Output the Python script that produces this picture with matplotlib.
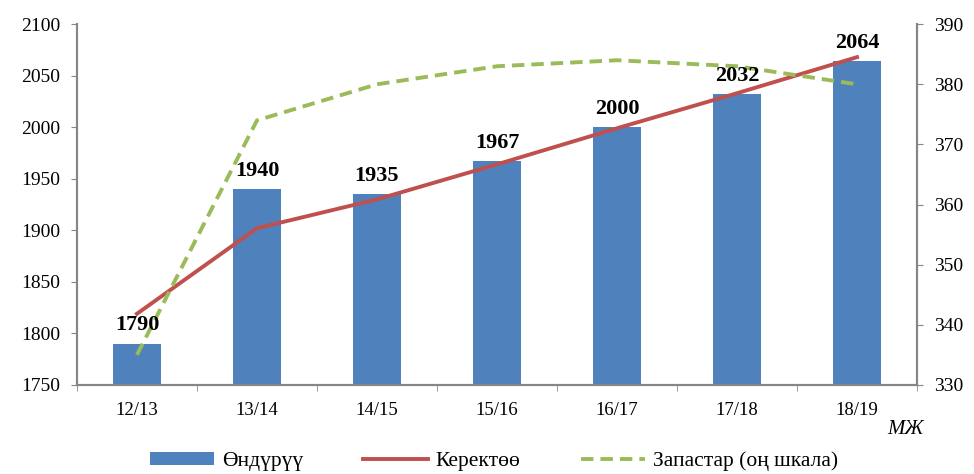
import matplotlib.pyplot as plt
import numpy as np

plt.rcParams['font.family'] = ['Liberation Serif', 'DejaVu Serif']

# данные
years = ["12/13", "13/14", "14/15", "15/16", "16/17", "17/18", "18/19"]
production = [1790, 1940, 1935, 1967, 2000, 2032, 2064]
consumption = [1819, 1902, 1930, 1964, 1999, 2033, 2068]
stocks = [335, 374, 380, 383, 384, 383, 380]

BAR_COLOR = "#4F81BD"
RED = "#C0504D"
GREEN = "#9BBB59"
AXIS_GRAY = "#868686"

fig = plt.figure(figsize=(9.74, 4.74), dpi=100)
ax = fig.add_axes([0.079, 0.188, 0.8625, 0.761])
ax2 = ax.twinx()

x = np.arange(len(years))
bars = ax.bar(x, production, width=0.4, color=BAR_COLOR, zorder=2)
l1, = ax.plot(x, consumption, color=RED, lw=2.8, zorder=3)
l2, = ax2.plot(x, stocks, color=GREEN, lw=2.8, dashes=(3.2, 1.8), zorder=2)

# подписи поверх линий
for xi, v in zip(x, production):
    ax2.annotate(str(v), (xi, v), xycoords=ax.transData, xytext=(0, 6),
                 textcoords="offset points", ha="center", va="bottom",
                 fontsize=16, fontweight="bold", zorder=5)

ax.set_xlim(-0.5, len(years) - 0.5)
ax.set_ylim(1750, 2100)
ax.set_yticks(range(1750, 2101, 50))
ax2.set_ylim(330, 390)
ax2.set_yticks(range(330, 391, 10))

ax.set_xticks(x)
ax.set_xticklabels(years)
ax.set_xticks(np.arange(-0.5, len(years), 1), minor=True)
ax.tick_params(axis="x", which="major", length=0, pad=12, labelsize=13.5)
ax.tick_params(axis="x", which="minor", length=4, color=AXIS_GRAY)
ax.tick_params(axis="y", length=4, color=AXIS_GRAY, labelsize=14, pad=8)
ax2.tick_params(axis="y", length=4, color=AXIS_GRAY, labelsize=14, pad=8)

for a in (ax, ax2):
    a.spines["top"].set_visible(False)
    for s in ("left", "right", "bottom"):
        a.spines[s].set_color(AXIS_GRAY)
        a.spines[s].set_linewidth(1.5)

ax.set_zorder(ax2.get_zorder() - 1)
ax.patch.set_visible(False)
ax2.patch.set_visible(False)

fig.text(0.948, 0.085, "МЖ", fontsize=15, style="italic", ha="right")

fig.legend([bars, l1, l2], ["Өндүрүү", "Керектөө", "Запастар (оң шкала)"],
           loc="center", bbox_to_anchor=(0.507, 0.027), ncol=3, frameon=False,
           fontsize=15.5, handlelength=3.0, handletextpad=0.35, columnspacing=2.8,
           handleheight=0.6)

fig.savefig("out.png", dpi=100)
